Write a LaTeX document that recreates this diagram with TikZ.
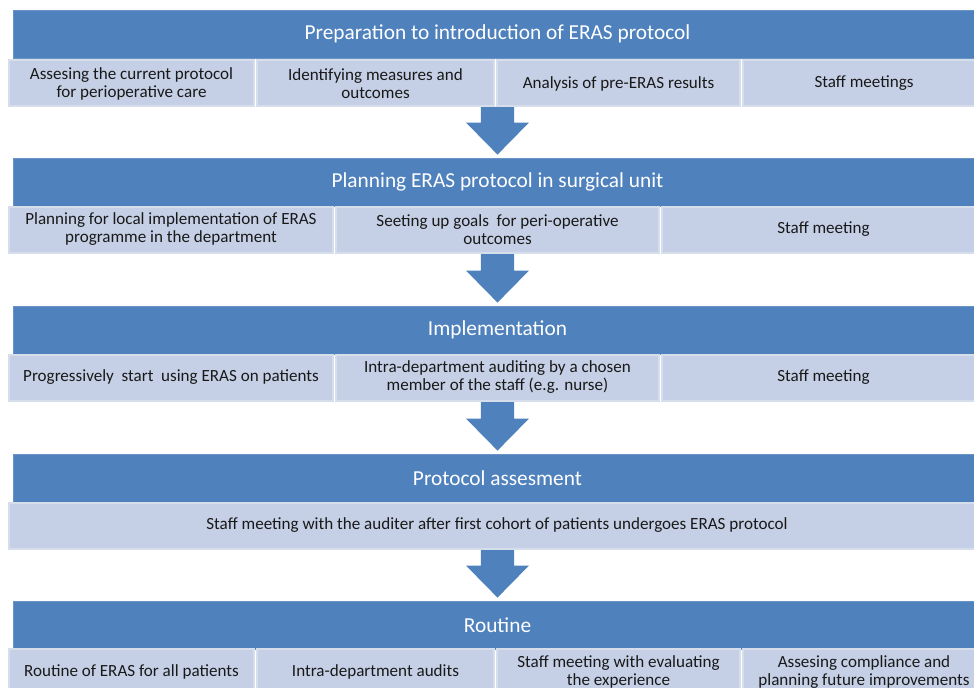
\documentclass[tikz,border=0pt]{standalone}
\usepackage{fontspec}
\setmainfont{Carlito}
\usetikzlibrary{calc}
\definecolor{erasblue}{HTML}{4F81BD}
\definecolor{erasedge}{HTML}{6A93C6}
\definecolor{subfill}{HTML}{C5D0E6}
\definecolor{subedge}{HTML}{D6DEEC}
\tikzset{
  header/.style={fill=erasblue, draw=erasedge, line width=0.6pt, text=white,
    minimum width=726.75pt, minimum height=36pt, inner sep=0pt,
    font=\fontsize{16}{19}\selectfont},
  sub/.style={fill=subfill, draw=subedge, line width=1.5pt, align=center,
    minimum height=34.5pt, inner sep=1pt, text=black!90,
    font=\fontsize{12.8}{13.5}\selectfont},
  bigarrow/.style={fill=erasblue, draw=none,
    to path={let \p1=(\tikztostart), \p2=(\tikztotarget) in
      (\x1-12.4pt,\y1) -- (\x1+12.4pt,\y1) -- (\x1+12.4pt,\y2+26.25pt)
      -- (\x1+23.6pt,\y2+26.25pt) -- (\x1,\y2+2.25pt)
      -- (\x1-23.6pt,\y2+26.25pt) -- (\x1-12.4pt,\y2+26.25pt) -- cycle}}
}
\begin{document}
\begin{tikzpicture}[x=0.75pt,y=-0.75pt]
  \useasboundingbox (0,0) rectangle (974,688);
  \clip (0,0) rectangle (974,688);
  % headers
  \node[header] (h1) at (497.5,34) {Preparation to introduction of ERAS protocol};
  \node[header] (h2) at (497.5,182) {Planning ERAS protocol in surgical unit};
  \node[header] (h3) at (497.5,330) {Implementation};
  \node[header] (h4) at (497.5,478) {Protocol assesment};
  \node[header] (h5) at (497.5,625) {Routine};
  % arrows between the stages
  \coordinate (a1) at (497.5,107);
  \coordinate (a2) at (497.5,252);
  \coordinate (a3) at (497.5,400);
  \coordinate (a4) at (497.5,548);
  \draw[bigarrow] (a1) to (h2.north);
  \draw[bigarrow] (a2) to (h3.north);
  \draw[bigarrow] (a3) to (h4.north);
  \draw[bigarrow] (a4) to (h5.north);
  % stage 1
  \node[sub, minimum width=183.75pt] (s1a) at (131.5,83.5) {Assesing the current protocol\\for perioperative care};
  \node[sub, minimum width=177.75pt] (s1b) at (375.5,83.5) {Identifying measures and\\outcomes};
  \node[sub, minimum width=182.25pt] (s1c) at (618.5,83.5) {Analysis of pre-ERAS results};
  \node[sub, minimum width=181.5pt] (s1d) at (864,83.5) {Staff meetings};
  % stage 2
  \node[sub, minimum width=243pt] (s2a) at (171,229.5) {Planning for local implementation of ERAS\\programme in the department};
  \node[sub, minimum width=242.25pt] (s2b) at (497.5,229.5) {Seeting up goals~ for peri-operative\\outcomes};
  \node[sub, minimum width=242.25pt] (s2c) at (823.5,229.5) {Staff meeting};
  % stage 3
  \node[sub, minimum width=243pt] (s3a) at (171,377.5) {Progressively~ start~ using ERAS on patients};
  \node[sub, minimum width=242.25pt] (s3b) at (497.5,377.5) {Intra-department auditing by a chosen\\member of the staff (e.g. nurse)};
  \node[sub, minimum width=242.25pt] (s3c) at (823.5,377.5) {Staff meeting};
  % stage 4
  \node[sub, minimum width=732pt] (s4a) at (497,525.5) {Staff meeting with the auditer after first cohort of patients undergoes ERAS protocol};
  % stage 5
  \node[sub, minimum width=183.75pt] (s5a) at (131.5,672) {Routine of ERAS for all patients};
  \node[sub, minimum width=177.75pt] (s5b) at (375.5,672) {Intra-department audits};
  \node[sub, minimum width=182.25pt] (s5c) at (618.5,672) {Staff meeting with evaluating\\the experience};
  \node[sub, minimum width=181.5pt] (s5d) at (864,672) {Assesing compliance and\\planning future improvements};
\end{tikzpicture}
\end{document}
